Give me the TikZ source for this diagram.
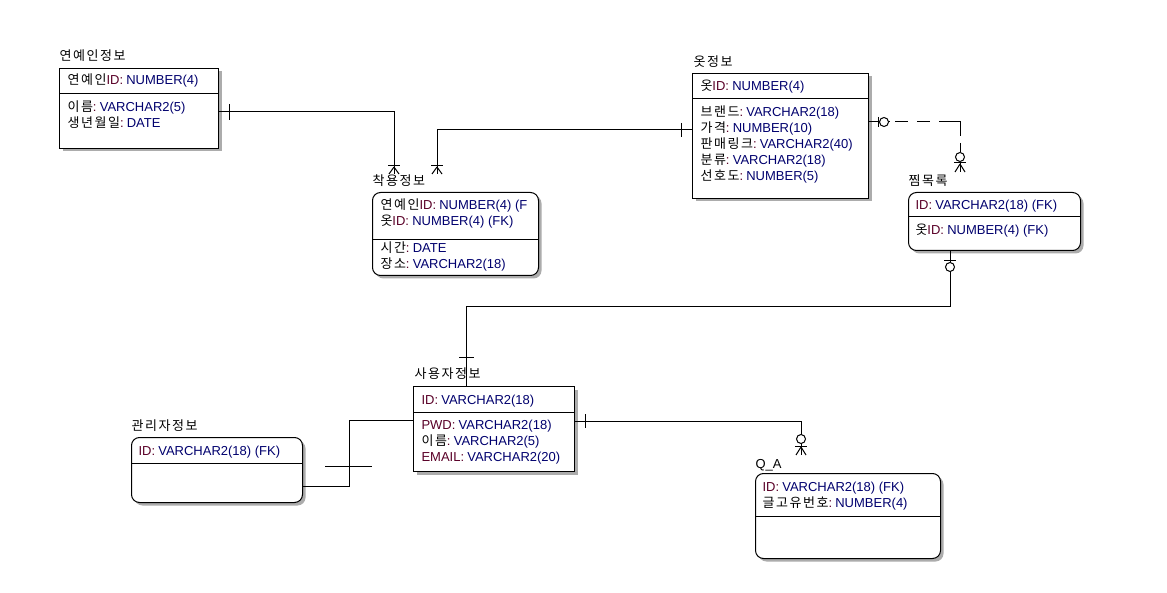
\documentclass[tikz,border=0pt]{standalone}
\usepackage{fontspec}
\setmainfont{Liberation Sans}
\newfontfamily\krf[LetterSpace=12]{Noto Sans CJK KR}
\newcommand\K[1]{{\krf\color{black}#1}}
\usetikzlibrary{shadows}
\definecolor{namec}{RGB}{90,0,40}
\definecolor{typec}{RGB}{0,0,110}
\newcommand\rowt[2]{\textcolor{namec}{#1}\hspace{3.2pt}\textcolor{typec}{#2}}
\begin{document}
\begin{tikzpicture}[x=1pt,y=-1pt,line width=1pt,
  ent/.style={draw, fill=white, inner sep=0, anchor=north west,
    drop shadow={shadow xshift=3pt, shadow yshift=-3pt, fill=gray!65, opacity=1}},
  dep/.style={ent, rounded corners=8pt},
  txt/.style={anchor=base west, inner sep=0, font=\fontsize{13}{15}\selectfont},
  opt/.style={draw, fill=white, circle, inner sep=0, minimum size=9pt}]
\useasboundingbox (0,0) rectangle (1167,593);
\fill[white] (0,0) rectangle (1167,593);

% ---------- entities ----------
\node[ent, minimum width=159, minimum height=80] (yeon) at (59,68) {};
\draw (yeon.west |- 0,94) -- (yeon.east |- 0,94);
\node[txt] (yeonT) at (59,61) {\K{연예인정보}};
\node[txt] (yeon1) at (67,85) {\rowt{\K{연예인}ID:}{NUMBER(4)}};
\node[txt] (yeon2) at (67,112) {\rowt{\K{이름}:}{VARCHAR2(5)}};
\node[txt] (yeon3) at (67,128) {\rowt{\K{생년월일}:}{DATE}};

\node[dep, minimum width=166, minimum height=83] (chak) at (372,192) {};
\draw (chak.west |- 0,240) -- (chak.east |- 0,240);
\node[txt] (chakT) at (372,186) {\K{착용정보}};
\node[txt] (chak1) at (380,210) {\rowt{\K{연예인}ID:}{NUMBER(4) (F}};
\node[txt] (chak2) at (380,226) {\rowt{\K{옷}ID:}{NUMBER(4) (FK)}};
\node[txt] (chak3) at (380,253) {\rowt{\K{시간}:}{DATE}};
\node[txt] (chak4) at (380,269) {\rowt{\K{장소}:}{VARCHAR2(18)}};

\node[ent, minimum width=176, minimum height=125] (ot) at (692,73) {};
\draw (ot.west |- 0,99) -- (ot.east |- 0,99);
\node[txt] (otT) at (693,67) {\K{옷정보}};
\node[txt] (ot1) at (700,91) {\rowt{\K{옷}ID:}{NUMBER(4)}};
\node[txt] (ot2) at (700,117) {\rowt{\K{브랜드}:}{VARCHAR2(18)}};
\node[txt] (ot3) at (700,133) {\rowt{\K{가격}:}{NUMBER(10)}};
\node[txt] (ot4) at (700,149) {\rowt{\K{판매링크}:}{VARCHAR2(40)}};
\node[txt] (ot5) at (700,165) {\rowt{\K{분류}:}{VARCHAR2(18)}};
\node[txt] (ot6) at (700,181) {\rowt{\K{선호도}:}{NUMBER(5)}};

\node[dep, minimum width=172, minimum height=58] (jjim) at (908,192) {};
\draw (jjim.west |- 0,217) -- (jjim.east |- 0,217);
\node[txt] (jjimT) at (908,186) {\K{찜목록}};
\node[txt] (jjim1) at (915,210) {\rowt{ID:}{VARCHAR2(18) (FK)}};
\node[txt] (jjim2) at (915,235) {\rowt{\K{옷}ID:}{NUMBER(4) (FK)}};

\node[dep, minimum width=171, minimum height=65] (gwan) at (131,437) {};
\draw (gwan.west |- 0,463) -- (gwan.east |- 0,463);
\node[txt] (gwanT) at (131,430) {\K{관리자정보}};
\node[txt] (gwan1) at (138,455) {\rowt{ID:}{VARCHAR2(18) (FK)}};

\node[ent, minimum width=161, minimum height=85] (sa) at (413,386) {};
\draw (sa.west |- 0,412) -- (sa.east |- 0,412);
\node[txt] (saT) at (414,379) {\K{사용자정보}};
\node[txt] (sa1) at (421,404) {\rowt{ID:}{VARCHAR2(18)}};
\node[txt] (sa2) at (421,429) {\rowt{PWD:}{VARCHAR2(18)}};
\node[txt] (sa3) at (421,445) {\rowt{\K{이름}:}{VARCHAR2(5)}};
\node[txt] (sa4) at (421,461) {\rowt{EMAIL:}{VARCHAR2(20)}};

\node[dep, minimum width=185, minimum height=85] (qa) at (755,473) {};
\draw (qa.west |- 0,516) -- (qa.east |- 0,516);
\node[txt] (qaT) at (755,468) {Q\_A};
\node[txt] (qa1) at (762,491) {\rowt{ID:}{VARCHAR2(18) (FK)}};
\node[txt] (qa2) at (762,507) {\rowt{\K{글고유번호}:}{NUMBER(4)}};

% ---------- connectors ----------
% 연예인정보 -> 착용정보
\coordinate (a1) at (394,174);
\draw (yeon.east |- 0,112) -| (a1);
\draw (229,104) -- (229,120);
\draw (388,166) -- (400,166);
\draw (394,167) -- (389,174) (394,167) -- (399,174);

% 옷정보 -> 착용정보
\coordinate (b1) at (437,174);
\draw (ot.west |- 0,130) -| (b1);
\draw (681,123) -- (681,137);
\draw (431,166) -- (443,166);
\draw (437,167) -- (432,174) (437,167) -- (442,174);

% 옷정보 -> 찜목록 (dashed)
\node[opt] (c2) at (960,157) {};
\draw[dash pattern=on 21pt off 5pt on 13pt off 9pt on 13pt off 9pt on 35pt off 7pt on 40pt]
  (ot.east |- 0,122) -| (c2.north);
\draw (878,117) -- (878,127);
\node[opt] (c0) at (884,122) {};
\draw (954,163) -- (966,163);
\coordinate (c1) at (960,172);
\draw (c2.south) -- (c1);
\draw (960,164) -- (955,172) (960,164) -- (965,172);

% 찜목록 -> 사용자정보
\draw (jjim.south -| 950,0) -- (950,307) -| (sa.north -| 466,0);
\draw (944,261) -- (956,261);
\node[opt] (d0) at (950,267) {};
\draw (459,358) -- (474,358);

% 사용자정보 -> 관리자정보
\draw (sa.west |- 0,420) -- (349,420) -- (349,486) -- (gwan.east |- 0,486);
\draw (325,466) -- (372,466);

% 사용자정보 -> Q_A
\coordinate (f1) at (801,455);
\draw (sa.east |- 0,421) -| (f1);
\draw (585,414) -- (585,428);
\node[opt] (f0) at (801,439) {};
\draw (795,446) -- (807,446);
\draw (801,447) -- (796,455) (801,447) -- (806,455);
\end{tikzpicture}
\end{document}
